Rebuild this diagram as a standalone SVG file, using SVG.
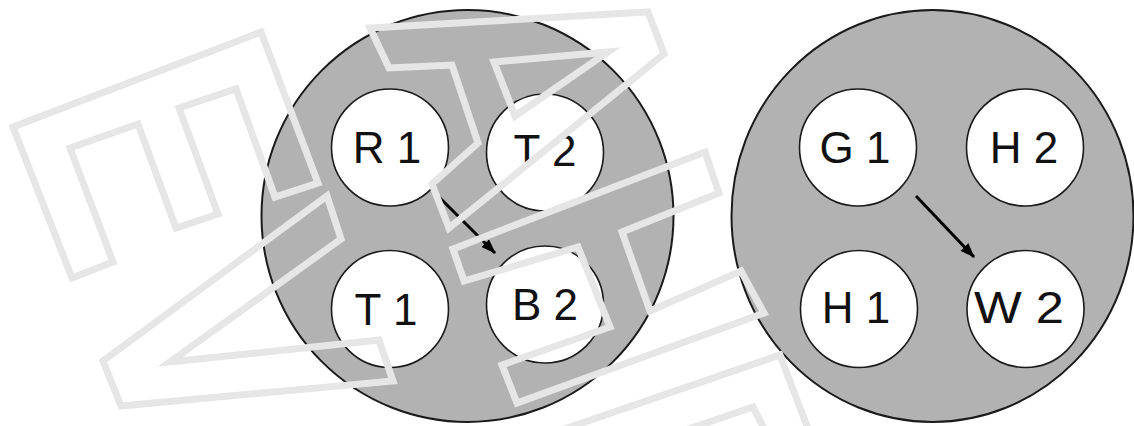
<svg xmlns="http://www.w3.org/2000/svg" width="1134" height="426" viewBox="0 0 1134 426">
  <style>
    .plate { fill: #b2b2b2; stroke: #1a1a1a; stroke-width: 2; }
    .pin { fill: #ffffff; stroke: #1a1a1a; stroke-width: 1.6; }
    .lbl { font-family: "Liberation Sans", Arial, sans-serif; font-size: 44px; fill: #111111; text-anchor: middle; }
    .link { stroke: #000000; stroke-width: 3; fill: none; marker-end: url(#head); }
    .wm { fill: none; stroke: #e6e6e6; stroke-width: 7; stroke-linejoin: miter; }
  </style>
  <defs>
    <marker id="head" markerUnits="userSpaceOnUse" markerWidth="15" markerHeight="11" refX="14" refY="5.5" orient="auto">
      <path d="M0,0 L15,5.5 L0,11 Z" fill="#000000"/>
    </marker>
  </defs>
  <rect width="1134" height="426" fill="#ffffff"/>

  <!-- left plate -->
  <g id="plate-left">
    <circle class="plate" cx="467.5" cy="216" r="206"/>
  </g>
  <g id="R1"><circle class="pin" cx="390" cy="147.5" r="58.5"/><text class="lbl" x="387" y="163">R 1</text></g>
  <g id="T2"><circle class="pin" cx="545" cy="152.5" r="58.5"/><text class="lbl" x="545" y="166">T 2</text></g>
  <g id="T1"><circle class="pin" cx="390" cy="309" r="58.5"/><text class="lbl" x="386" y="325">T 1</text></g>
  <g id="B2"><circle class="pin" cx="545" cy="304.5" r="58.5"/><text class="lbl" x="545" y="320">B 2</text></g>

  <!-- right plate -->
  <g id="plate-right">
    <ellipse class="plate" cx="932.5" cy="216" rx="201" ry="206"/>
  </g>
  <g id="G1"><circle class="pin" cx="858" cy="147.5" r="58.5"/><text class="lbl" x="855" y="163">G 1</text></g>
  <g id="H2"><circle class="pin" cx="1025" cy="147.5" r="58.5"/><text class="lbl" x="1024" y="163">H 2</text></g>
  <g id="H1"><circle class="pin" cx="859" cy="309" r="58.5"/><text class="lbl" x="856" y="323">H 1</text></g>
  <g id="W2"><circle class="pin" cx="1025.5" cy="309" r="58.5"/><text class="lbl" x="1019" y="323" textLength="90" lengthAdjust="spacingAndGlyphs">W 2</text></g>

  <!-- connectors -->
  <g id="connectors">
    <line class="link" x1="438" y1="196" x2="495" y2="253"/>
    <line class="link" x1="916" y1="196" x2="974" y2="257"/>
  </g>

  <!-- outlined overlay pattern -->
  <g id="overlay">
    <polygon class="wm" points="13,127 261,32 318,183 275,197 236,89 179,108 218,214 176,228 138,124 70,148 113,262 72,278"/>
    <polygon class="wm" points="327,196 341,239 170,362 379,340 393,381 121,406 103,361"/>
    <polygon class="wm" points="370,28 648,12 664,54 449,228 432,184 478,143 452,65 389,68"/>
    <polygon class="wm" points="494,62 608,52 515,116"/>
    <polygon class="wm" points="453,249 705,152 719,193 622,232 650,311 741,271 764,313 517,403 502,365 610,327 578,247 464,281"/>
    <polyline class="wm" points="550,434 780,355 810,434"/>
    <polyline class="wm" points="674,434 753,407 767,434"/>
  </g>
</svg>
